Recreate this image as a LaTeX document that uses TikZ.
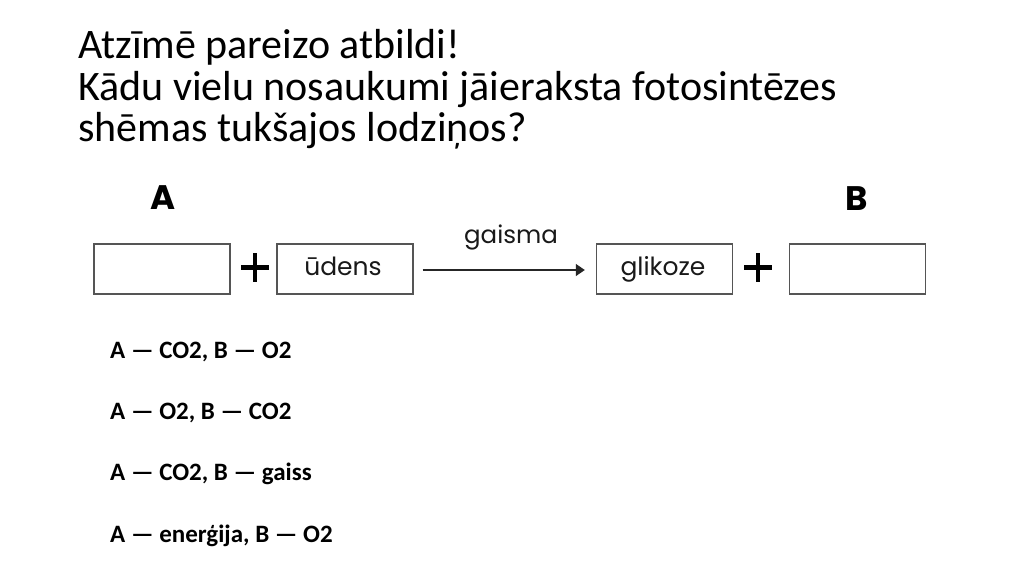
\documentclass[tikz,border=0pt]{standalone}
\usepackage{fontspec}
\setmainfont{Carlito}
\newfontfamily\diagfont{Poppins}
\usetikzlibrary{arrows.meta}
\definecolor{boxgray}{HTML}{555555}
\tikzset{
  x=1pt, y=-1pt,
  title/.style={anchor=base west, inner sep=0pt, font=\fontsize{42}{44}\selectfont},
  option/.style={anchor=base west, inner sep=0pt, font=\fontsize{25}{28}\selectfont\bfseries},
  blank/.style={draw=boxgray, line width=1.4pt, minimum width=136pt, minimum height=50pt, inner sep=0pt, anchor=center},
  boxtext/.style={anchor=base, inner sep=0pt, text=black!90, font=\diagfont\fontsize{25}{28}\selectfont},
  letter/.style={inner sep=0pt, font=\diagfont\fontsize{34}{36}\selectfont\bfseries},
  plusbar/.style={line width=4.5pt, black},
  flow/.style={line width=1.3pt, draw=black!85, -{Triangle[length=9pt, width=12pt]}},
}
\begin{document}
\begin{tikzpicture}
\useasboundingbox[fill=white] (0,0) rectangle (1024,574);
% title
\node[title] (t1) at (78,58) {Atzīmē pareizo atbildi!};
\node[title] (t2) at (78,100) {Kādu vielu nosaukumi jāieraksta fotosintēzes};
\node[title] (t3) at (78,141) {shēmas tukšajos lodziņos?};
% diagram boxes
\node[blank] (b1) at (162,269) {};
\node[blank] (b2) at (345,269) {};
\node[blank] (b3) at (664.5,269) {};
\node[blank] (b4) at (857.5,269) {};
\node[boxtext] (udens) at (343,275) {ūdens};
\node[boxtext] (glik) at (663,275) {glikoze};
\node[letter, anchor=base] (A) at (163,209) {A};
\node[letter, anchor=base] (B) at (857,210) {B};
% plus signs
\coordinate (p1) at (255,267.5);
\coordinate (p2) at (758,267.5);
\draw[plusbar] ([xshift=-14pt]p1) -- ([xshift=14pt]p1);
\draw[plusbar] ([yshift=14.5pt]p1) -- ([yshift=-14.5pt]p1);
\draw[plusbar] ([xshift=-14pt]p2) -- ([xshift=14pt]p2);
\draw[plusbar] ([yshift=14.5pt]p2) -- ([yshift=-14.5pt]p2);
% arrow
\draw[flow] ([xshift=9pt]b2.east |- 0,270) coordinate (as) -- ([xshift=-11pt]b3.west |- 0,270) coordinate (ae);
\node[boxtext, font=\diagfont\fontsize{24.5}{26}\selectfont] (gaisma) at (511,243) {gaisma};
% options
\node[option] (o1) at (110,358) {A — CO2, B — O2};
\node[option] (o2) at (110,419) {A — O2, B — CO2};
\node[option] (o3) at (110,480) {A — CO2, B — gaiss};
\node[option] (o4) at (110,542) {A — enerģija, B — O2};
\end{tikzpicture}
\end{document}
